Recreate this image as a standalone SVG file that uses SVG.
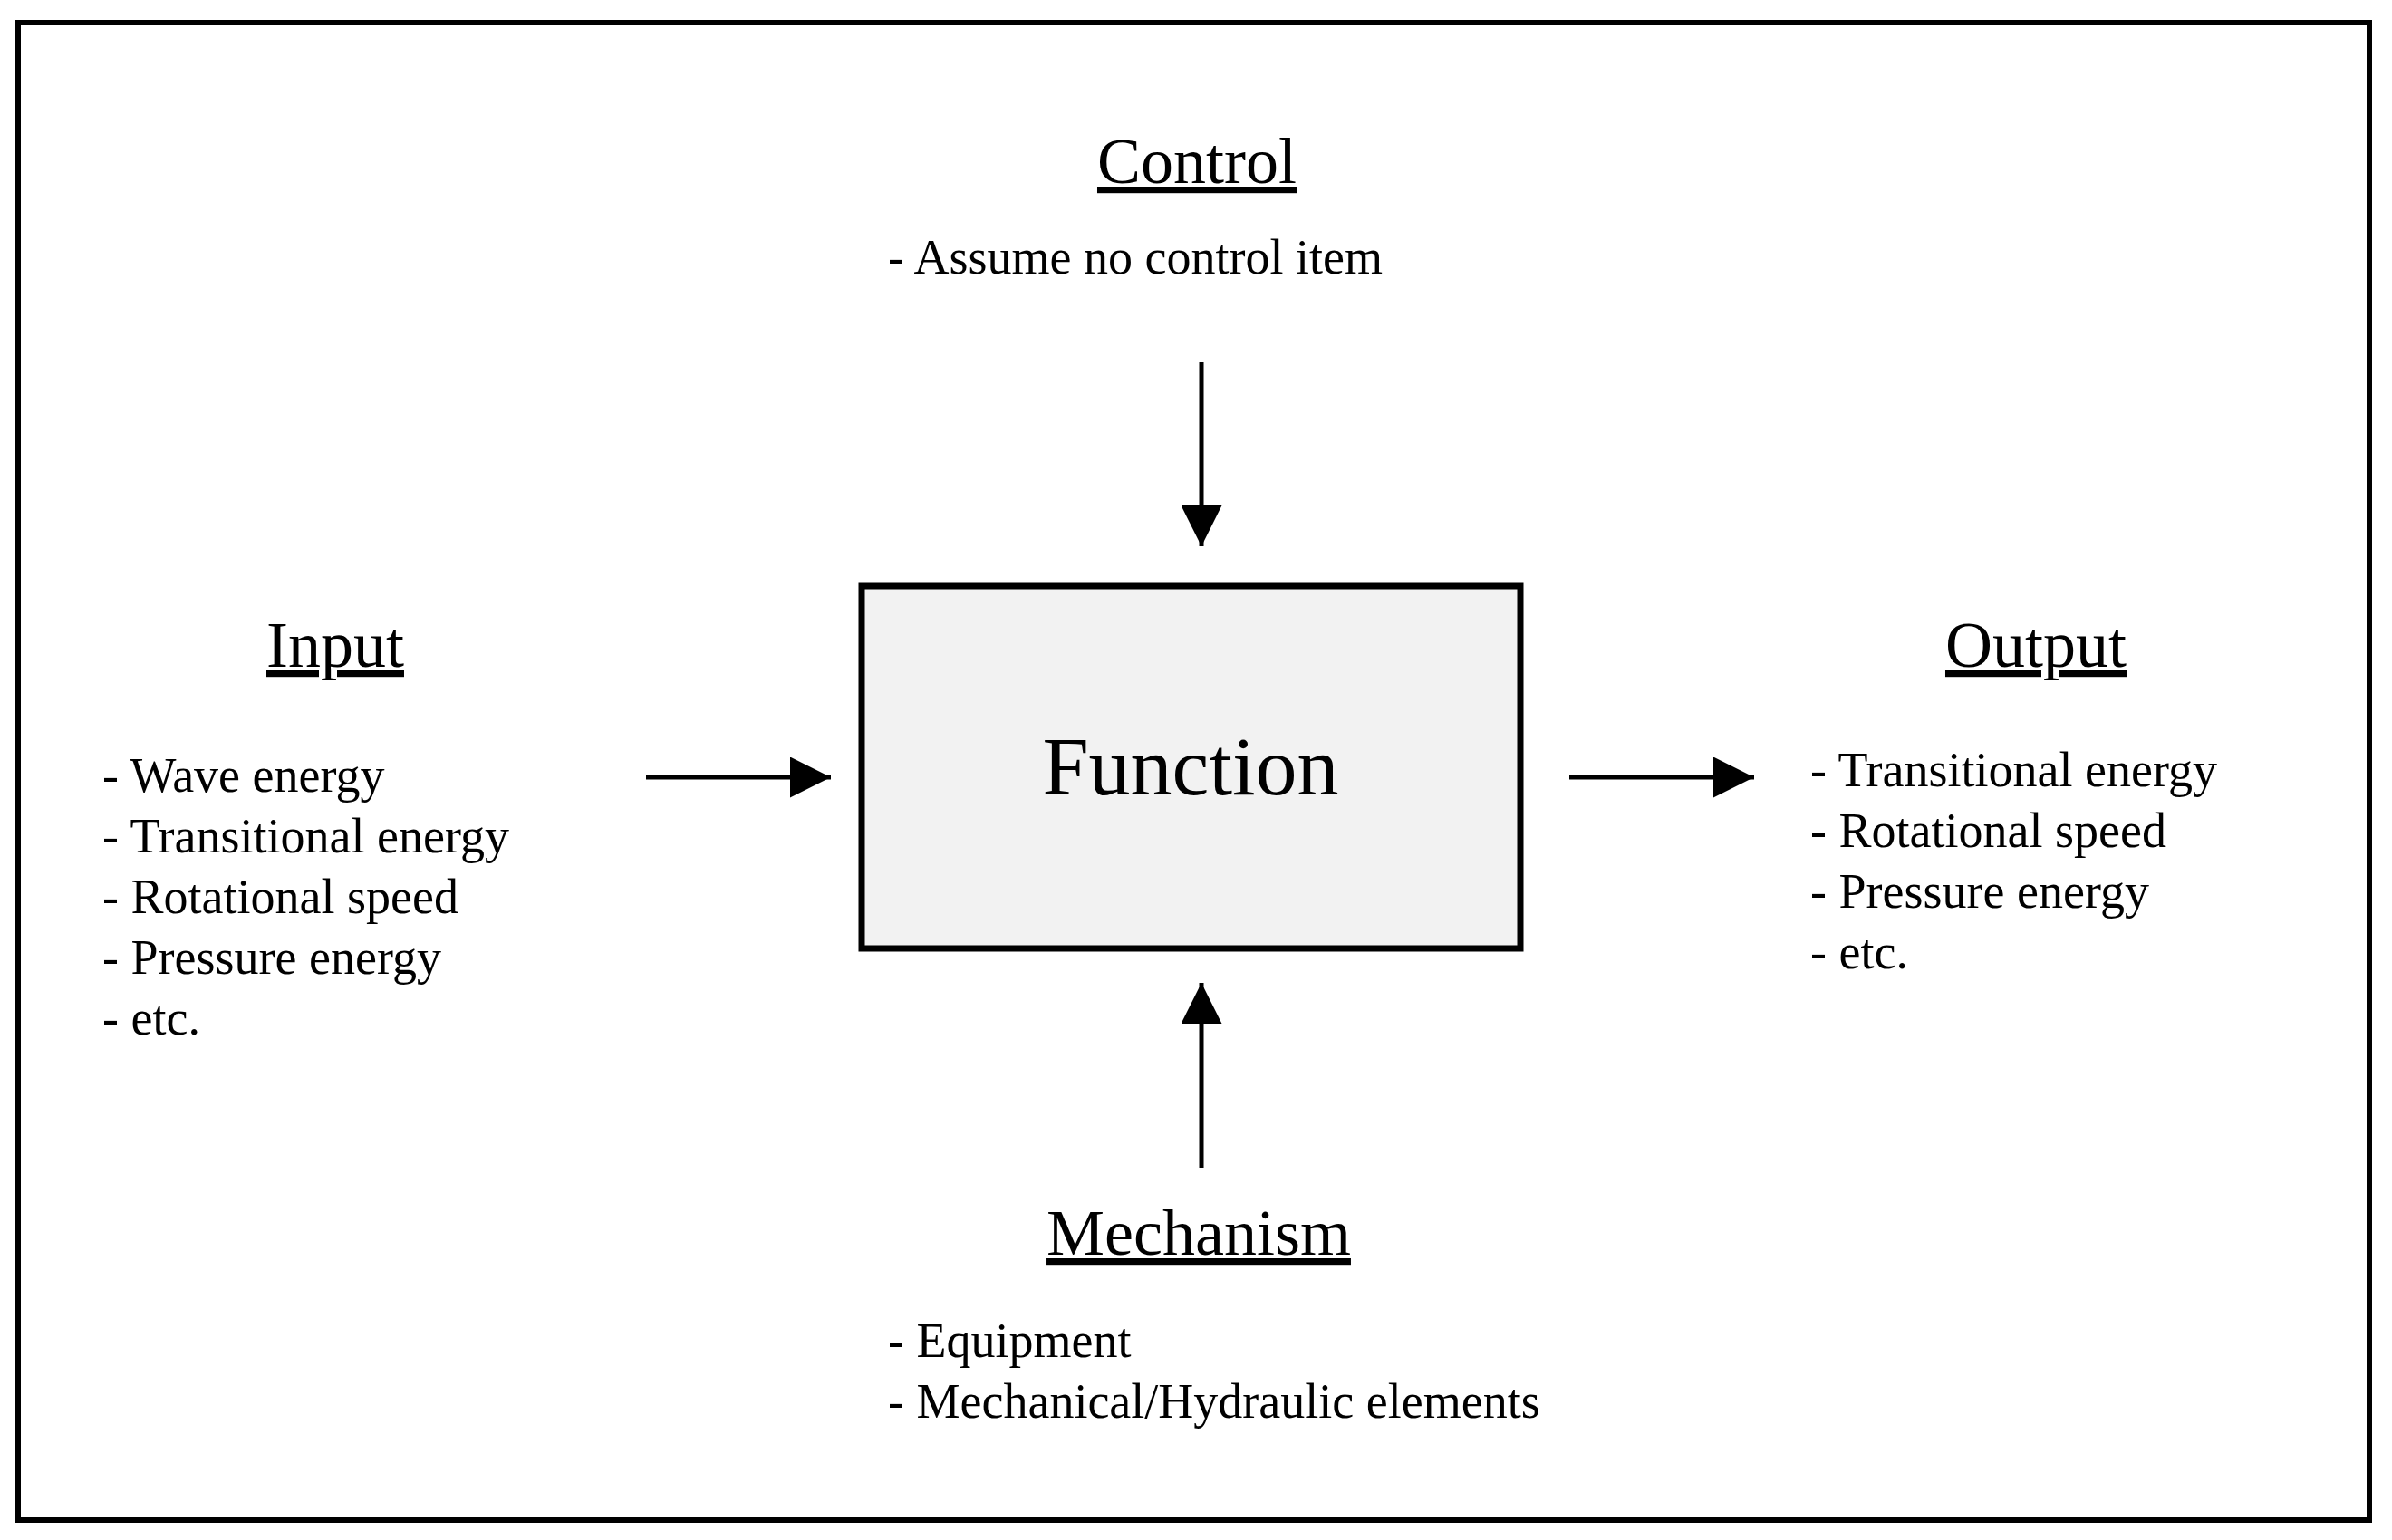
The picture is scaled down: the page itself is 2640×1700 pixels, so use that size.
<svg xmlns="http://www.w3.org/2000/svg" width="2640" height="1700" viewBox="0 0 2640 1700">
<style>
text{font-family:"Liberation Serif","DejaVu Serif",serif;fill:#000}
.t{font-size:72px;text-decoration:underline;text-anchor:middle}
.b{font-size:54px}
.c{stroke:#000;stroke-width:5;fill:none}
</style>
<defs><marker id="a" viewBox="0 0 10 10" refX="10" refY="5" markerWidth="8" markerHeight="8" markerUnits="userSpaceOnUse" orient="auto"><path d="M0,0L10,5L0,10z" fill="#000"/></marker>
<marker id="h" viewBox="0 0 10 10" refX="10" refY="5" markerWidth="9" markerHeight="9" orient="auto"><path d="M0,0L10,5L0,10z" fill="#000"/></marker></defs>
<rect x="20" y="25" width="2595" height="1653" fill="#fff" stroke="#000" stroke-width="6"/>
<g id="function"><rect x="951" y="647" width="727" height="400" fill="#f2f2f2" stroke="#000" stroke-width="7"/><text x="1314" y="877" font-size="92" text-anchor="middle">Function</text></g>
<g id="control"><text class="t" x="1321" y="202">Control</text><text class="b" x="980" y="302">- Assume no control item</text></g>
<g id="input"><text class="t" x="370" y="736">Input</text>
<text class="b" x="113" y="874">- Wave energy</text><text class="b" x="113" y="941">- Transitional energy</text><text class="b" x="113" y="1008">- Rotational speed</text><text class="b" x="113" y="1075">- Pressure energy</text><text class="b" x="113" y="1142">- etc.</text></g>
<g id="output"><text class="t" x="2247" y="736">Output</text>
<text class="b" x="1998" y="868">- Transitional energy</text><text class="b" x="1998" y="935">- Rotational speed</text><text class="b" x="1998" y="1002">- Pressure energy</text><text class="b" x="1998" y="1069">- etc.</text></g>
<g id="mechanism"><text class="t" x="1323" y="1385">Mechanism</text><text class="b" x="980" y="1498">- Equipment</text><text class="b" x="980" y="1565">- Mechanical/Hydraulic elements</text></g>
<g id="connectors">
<line class="c" x1="1326" y1="400" x2="1326" y2="603" marker-end="url(#h)"/>
<line class="c" x1="713" y1="858" x2="917" y2="858" marker-end="url(#h)"/>
<line class="c" x1="1732" y1="858" x2="1936" y2="858" marker-end="url(#h)"/>
<line class="c" x1="1326" y1="1289" x2="1326" y2="1085" marker-end="url(#h)"/>
</g>
</svg>
